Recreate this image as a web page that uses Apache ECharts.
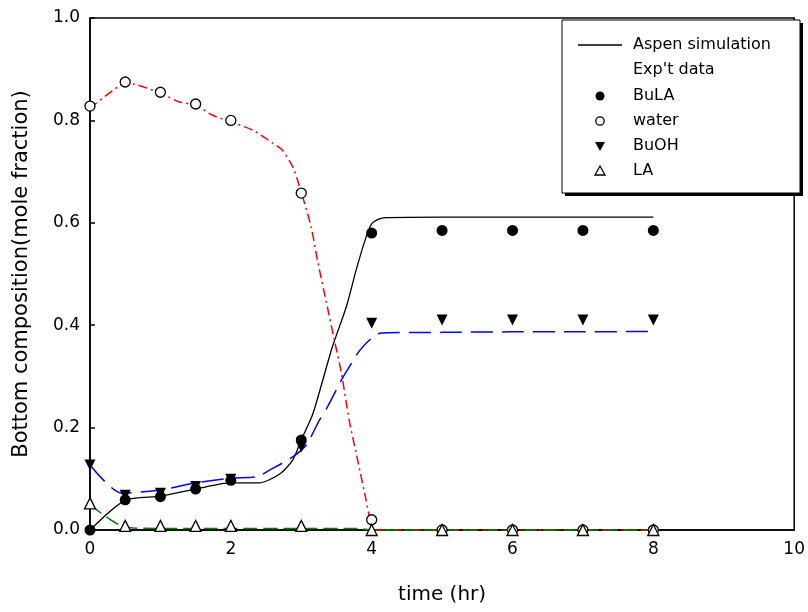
<!DOCTYPE html>
<html>
<head>
<meta charset="utf-8">
<script src="https://cdn.jsdelivr.net/npm/echarts@6/dist/echarts.min.js"></script>
<style>html,body{margin:0;padding:0;background:#fff}#c{width:808px;height:612px}</style>
</head>
<body>
<div id="c"></div>
<script>
// ---- data ----
var xTicks = [0, 2, 4, 6, 8, 10];
var yTicks = [0.0, 0.2, 0.4, 0.6, 0.8, 1.0];

var bulaSimT = [0, 0.5, 1.0, 1.5, 2.0, 2.4, 2.7, 2.88, 3.0, 3.16, 3.3, 3.44, 3.64, 3.78, 3.92, 4.0, 4.1, 4.2, 5, 6, 7, 8];
var bulaSimY = [0, 0.058, 0.066, 0.08, 0.092, 0.092, 0.11, 0.137, 0.176, 0.225, 0.29, 0.357, 0.436, 0.508, 0.572, 0.598, 0.607, 0.61, 0.611, 0.611, 0.611, 0.611];

var buohSimT = [0, 0.45, 1.0, 1.5, 2.0, 2.37, 2.55, 2.88, 3.07, 3.26, 3.37, 3.57, 3.68, 3.8, 3.97, 4.14, 5, 6, 7, 8];
var buohSimY = [0.127, 0.072, 0.078, 0.092, 0.101, 0.104, 0.117, 0.143, 0.166, 0.215, 0.24, 0.293, 0.318, 0.345, 0.371, 0.385, 0.386, 0.387, 0.387, 0.388];

var waterSimT = [0, 0.33, 0.5, 0.68, 1.0, 1.27, 1.5, 1.74, 2.0, 2.31, 2.59, 2.73, 2.88, 3.0, 3.14, 3.23, 3.37, 3.47, 3.57, 3.68, 3.8, 3.92, 3.99, 4.06, 5, 6, 7, 8];
var waterSimY = [0.824, 0.859, 0.873, 0.869, 0.853, 0.836, 0.83, 0.81, 0.797, 0.781, 0.756, 0.742, 0.709, 0.66, 0.592, 0.527, 0.436, 0.371, 0.307, 0.215, 0.137, 0.059, 0.014, 0, 0, 0, 0, 0];

var laSimT = [0, 0.24, 0.42, 0.61, 1, 2, 3, 3.8, 4, 5, 6, 7, 8];
var laSimY = [0.049, 0.025, 0.01, 0.004, 0.003, 0.003, 0.003, 0.003, 0, 0, 0, 0, 0];

var expT     = [0, 0.5, 1, 1.5, 2, 3, 4, 5, 6, 7, 8];
var bulaExp  = [0, 0.059, 0.065, 0.08, 0.097, 0.176, 0.58, 0.585, 0.585, 0.585, 0.585];
var waterExp = [0.828, 0.875, 0.855, 0.832, 0.80, 0.658, 0.02, 0, 0, 0, 0];
var buohExp  = [0.127, 0.068, 0.072, 0.085, 0.099, 0.162, 0.404, 0.41, 0.41, 0.41, 0.41];
var laExp    = [0.052, 0.008, 0.008, 0.008, 0.008, 0.008, 0, 0, 0, 0, 0];

var legendTitles = ['Aspen simulation', "Exp't data", 'BuLA', 'water', 'BuOH', 'LA'];

function pairs(t, y) { return t.map(function (v, i) { return [v, y[i]]; }); }

var FONT = 'DejaVu Sans';
var chart = echarts.init(document.getElementById('c'), null, {renderer: 'canvas'});

function simLine(name, t, y, color, type, w) {
  return {
    name: name, type: 'line', data: pairs(t, y), showSymbol: false, symbol: 'none',
    smooth: 0.25, z: 2, clip: false, silent: true,
    lineStyle: {color: color, width: w, type: type}
  };
}
function expPts(name, y, symbol, filled, rot, size) {
  return {
    name: name, type: 'scatter', data: pairs(expT, y), symbol: symbol, symbolSize: size,
    symbolRotate: rot || 0, z: 5, clip: false, silent: true,
    itemStyle: {color: filled ? '#000' : '#fff', opacity: 1, borderColor: '#000', borderWidth: filled ? 0 : 1.3}
  };
}

// legend drawn as graphic box
var lgX = 562, lgY = 20, lgW = 238, lgH = 173;
var rowY = [45, 70, 96, 121, 146, 171];
var symX = 600, txtX = 633;
var legendEls = [
  {type: 'rect', shape: {x: lgX + 3, y: lgY + 3, width: lgW, height: lgH}, style: {fill: '#000'}, z: 100},
  {type: 'rect', shape: {x: lgX, y: lgY, width: lgW, height: lgH}, style: {fill: '#fff', stroke: '#000', lineWidth: 1}, z: 101},
  {type: 'line', shape: {x1: 578, y1: rowY[0], x2: 622, y2: rowY[0]}, style: {stroke: '#000', lineWidth: 1.3}, z: 102},
  {type: 'circle', shape: {cx: symX, cy: rowY[2], r: 4.5}, style: {fill: '#000'}, z: 102},
  {type: 'circle', shape: {cx: symX, cy: rowY[3], r: 4.2}, style: {fill: '#fff', stroke: '#000', lineWidth: 1.3}, z: 102},
  {type: 'polygon', shape: {points: [[symX - 5, rowY[4] - 4], [symX + 5, rowY[4] - 4], [symX, rowY[4] + 5]]}, style: {fill: '#000'}, z: 102},
  {type: 'polygon', shape: {points: [[symX - 5, rowY[5] + 4], [symX + 5, rowY[5] + 4], [symX, rowY[5] - 5]]}, style: {fill: '#fff', stroke: '#000', lineWidth: 1.3}, z: 102}
];
legendTitles.forEach(function (t, i) {
  legendEls.push({type: 'text', x: txtX, y: rowY[i], style: {text: t, font: '16px "' + FONT + '"', fill: '#000', textVerticalAlign: 'middle'}, z: 103});
});

chart.setOption({
  animation: false,
  backgroundColor: '#fff',
  grid: {left: 90, top: 18, right: 12, bottom: 82, show: true, borderColor: '#000', borderWidth: 1.5, backgroundColor: 'transparent'},
  xAxis: {
    type: 'value', min: xTicks[0], max: xTicks[xTicks.length - 1], interval: 2,
    name: 'time (hr)', nameLocation: 'middle', nameGap: 55,
    nameTextStyle: {fontFamily: FONT, fontSize: 20, color: '#000'},
    axisLine: {show: true, onZero: false, lineStyle: {color: '#000', width: 1.5}},
    axisTick: {show: false},
    splitLine: {show: false},
    axisLabel: {fontFamily: FONT, fontSize: 17, color: '#000', margin: 11}
  },
  yAxis: {
    type: 'value', min: yTicks[0], max: yTicks[yTicks.length - 1], interval: 0.2,
    name: 'Bottom composition(mole fraction)', nameLocation: 'middle', nameGap: 58,
    nameTextStyle: {fontFamily: FONT, fontSize: 21, color: '#000'},
    axisLine: {show: true, onZero: false, lineStyle: {color: '#000', width: 1.5}},
    axisTick: {show: true, inside: true, length: 5, lineStyle: {color: '#000', width: 1.5}},
    splitLine: {show: false},
    axisLabel: {fontFamily: FONT, fontSize: 17, color: '#000', margin: 10, formatter: function (v) { return v.toFixed(1); }}
  },
  series: [
    simLine('BuLA sim', bulaSimT, bulaSimY, '#000', 'solid', 1.3),
    simLine('water sim', waterSimT, waterSimY, '#ff0000', [9, 4, 2, 4], 1.5),
    simLine('BuOH sim', buohSimT, buohSimY, '#0000ff', [22, 9], 1.5),
    simLine('LA sim', laSimT, laSimY, '#008000', [14, 6], 1.5),
    expPts('BuLA', bulaExp, 'circle', true, 0, 11),
    expPts('water', waterExp, 'circle', false, 0, 10),
    expPts('BuOH', buohExp, 'triangle', true, 180, 11),
    expPts('LA', laExp, 'triangle', false, 0, 11)
  ],
  graphic: legendEls
});
</script>
</body>
</html>
